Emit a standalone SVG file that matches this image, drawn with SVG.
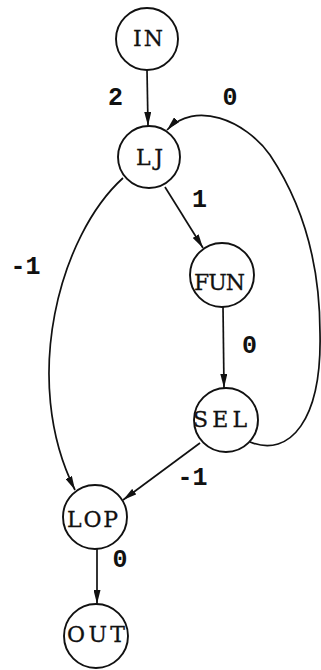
<svg xmlns="http://www.w3.org/2000/svg" width="321" height="670" viewBox="0 0 321 670">
<style>
.node circle{fill:#fff;stroke:#111;stroke-width:1.9}
.node text{font-family:"DejaVu Serif",serif;font-size:22px;fill:#111;stroke:#111;stroke-width:0.3}
.edge{fill:none;stroke:#111;stroke-width:1.7}
.lbl{font-family:"Liberation Mono",monospace;font-size:25px;font-weight:bold;fill:#111;text-anchor:middle}
</style>
<defs>
<marker id="arr" markerUnits="userSpaceOnUse" markerWidth="14" markerHeight="7" refX="14" refY="3.5" orient="auto">
<path d="M0,0 L14,3.5 L0,7 z" fill="#111"/>
</marker>
</defs>
<rect width="321" height="670" fill="#fff"/>
<g id="connectors">
<path class="edge" d="M147,70 L148,126" marker-end="url(#arr)"/>
<path class="edge" d="M165,187 L203,248" marker-end="url(#arr)"/>
<path class="edge" d="M223,307 L224,388" marker-end="url(#arr)"/>
<path class="edge" d="M200,443 L123,500" marker-end="url(#arr)"/>
<path class="edge" d="M97,549 L97,604" marker-end="url(#arr)"/>
<path class="edge" d="M123,178 C60,235 20,380 75,490" marker-end="url(#arr)"/>
<path class="edge" d="M250,442 C290,458 322,420 320,333 C320,260 300,200 270,155 C245,120 195,100 167,130" marker-end="url(#arr)"/>
</g>
<g id="labels">
<text class="lbl" x="115.5" y="105">2</text>
<text class="lbl" x="230" y="105">0</text>
<text class="lbl" x="199.5" y="207">1</text>
<text class="lbl" x="25.5" y="274">-1</text>
<text class="lbl" x="249.5" y="353">0</text>
<text class="lbl" x="192.5" y="485">-1</text>
<text class="lbl" x="120" y="567">0</text>
</g>
<g id="IN" class="node"><circle cx="147" cy="39" r="31"/><text x="133" y="46" textLength="30" lengthAdjust="spacing">IN</text></g>
<g id="LJ" class="node"><circle cx="149" cy="157" r="31"/><text x="136" y="165" textLength="27" lengthAdjust="spacing">LJ</text></g>
<g id="FUN" class="node"><circle cx="222" cy="275" r="32"/><text x="194" y="290" textLength="51" lengthAdjust="spacing">FUN</text></g>
<g id="SEL" class="node"><circle cx="226" cy="420" r="32"/><text x="193" y="427" textLength="54" lengthAdjust="spacing">SEL</text></g>
<g id="LOP" class="node"><circle cx="95" cy="517" r="32"/><text x="67" y="527" textLength="51" lengthAdjust="spacing">LOP</text></g>
<g id="OUT" class="node"><circle cx="96" cy="636" r="32"/><text x="67" y="642" textLength="58" lengthAdjust="spacing">OUT</text></g>
</svg>
